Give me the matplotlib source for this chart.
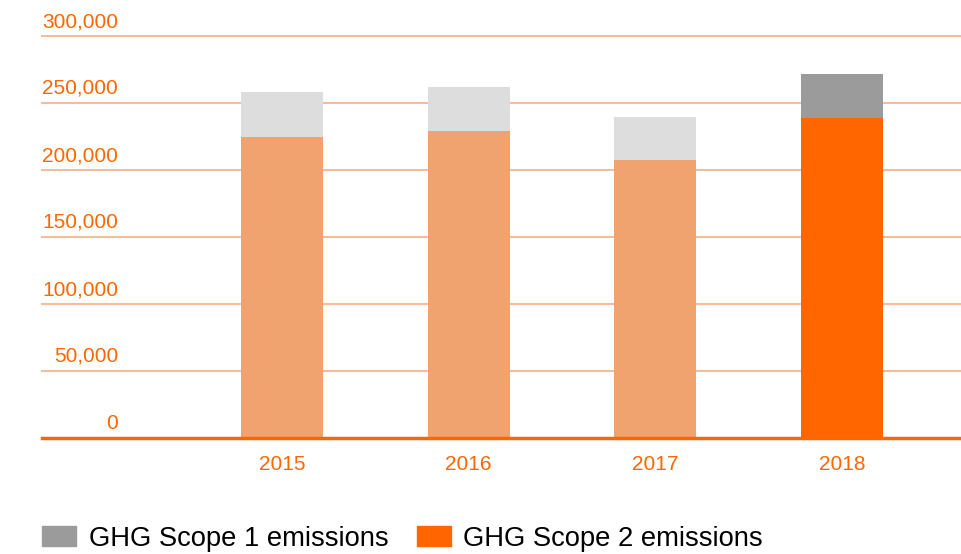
import matplotlib.pyplot as plt
from matplotlib.patches import Patch
import matplotlib.transforms as mtransforms

plt.rcParams['font.family'] = ['Liberation Sans', 'DejaVu Sans']

# data
years = ['2015', '2016', '2017', '2018']
scope2 = [224900, 229100, 207500, 239000]
scope1 = [33300, 33100, 32000, 32600]
yticks = [0, 50000, 100000, 150000, 200000, 250000, 300000]

orange = '#FF6600'
light_orange = '#F1A36F'
light_gray = '#DDDDDD'
gray = '#9B9B9B'

fig = plt.figure(figsize=(9.62, 5.54), dpi=100)
ax = fig.add_axes([42 / 962, 116 / 554, 920 / 962, 402 / 554])

x = list(range(len(years)))
c2 = [light_orange] * 3 + [orange]
c1 = [light_gray] * 3 + [gray]
ax.bar(x, scope2, width=0.44, color=c2, zorder=3)
ax.bar(x, scope1, width=0.44, bottom=scope2, color=c1, zorder=3)

ax.set_xlim(-1.286, 3.643)
ax.set_ylim(0, 300000)

# gridlines
for v in yticks[1:]:
    ax.axhline(v, color='#F6BD98', lw=1.5, zorder=1, clip_on=False)
ax.axhline(0, color=orange, lw=2.5, zorder=4, clip_on=False)

# y labels sitting above the gridlines
trans = mtransforms.blended_transform_factory(ax.transAxes, ax.transData)
trans = mtransforms.offset_copy(trans, fig=fig, x=0, y=5, units='dots')
for v in yticks:
    ax.text(76 / 920, v, f'{v:,}', transform=trans, ha='right', va='bottom',
            color=orange, fontsize=15, clip_on=False)

for s in ax.spines.values():
    s.set_visible(False)
ax.set_yticks([])
ax.set_xticks(x)
ax.set_xticklabels(years, color=orange, fontsize=15)
ax.tick_params(axis='x', length=0, pad=12)

handles = [Patch(color=gray), Patch(color=orange)]
fig.legend(handles, ['GHG Scope 1 emissions', 'GHG Scope 2 emissions'],
           loc='lower left', bbox_to_anchor=(42 / 962, 0.004), ncol=2,
           frameon=False, fontsize=19.7, handlelength=1.25, handleheight=0.72,
           handletextpad=0.45, columnspacing=1.05, borderpad=0.0,
           borderaxespad=0.0)

fig.savefig('out.png', dpi=100)
